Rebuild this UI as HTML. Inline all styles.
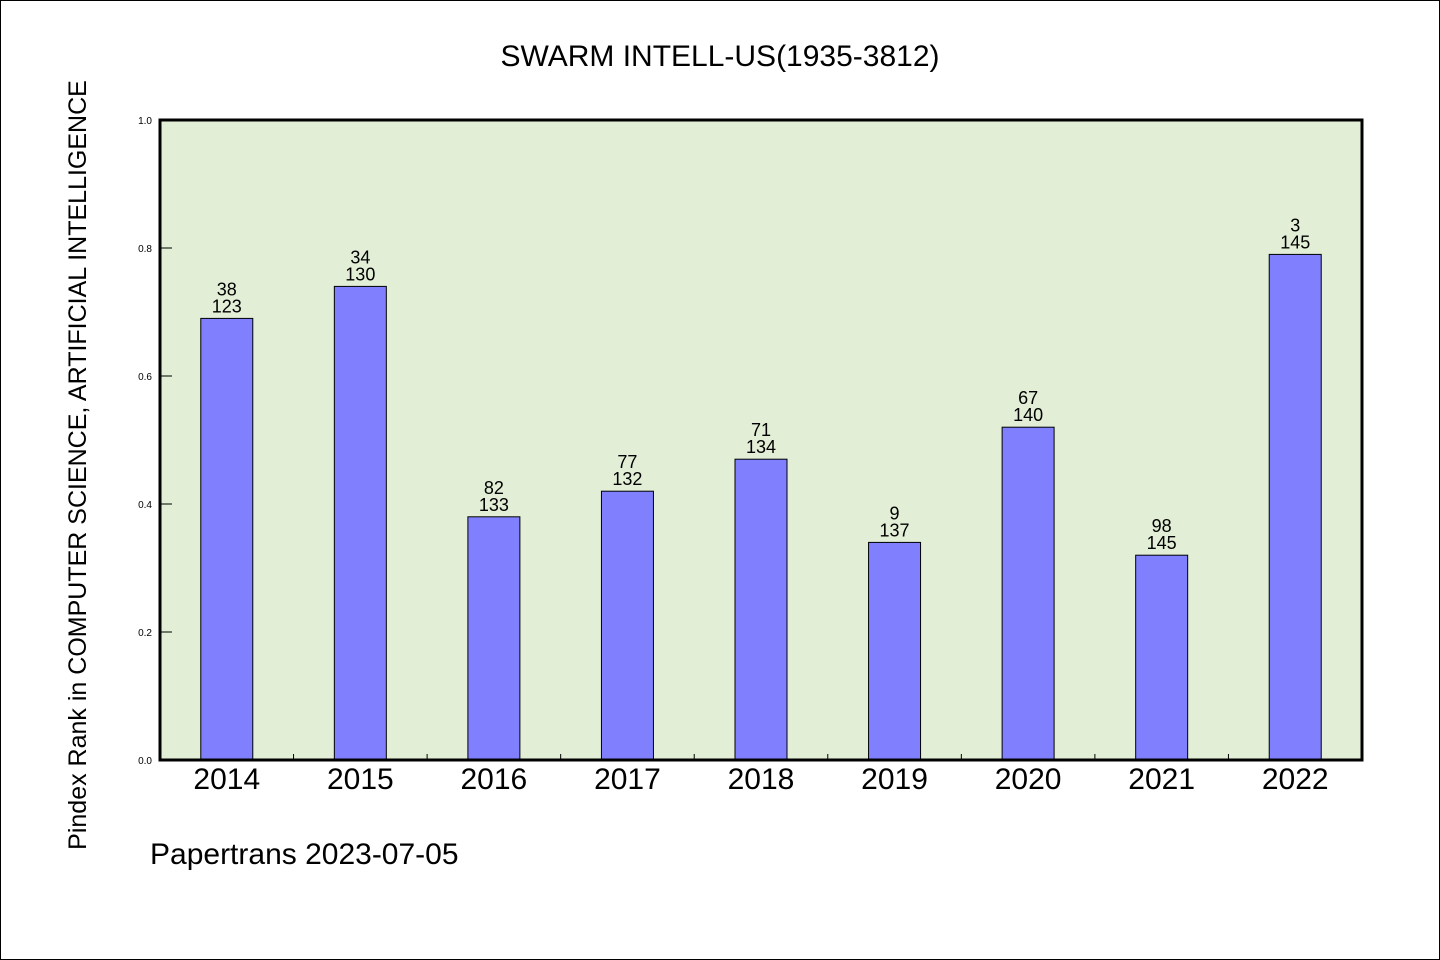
<!DOCTYPE html>
<html><head><meta charset="utf-8"><style>
html,body{margin:0;padding:0;background:#fff}
svg{display:block}
text{font-family:"WenQuanYi Zen Hei","Liberation Sans",sans-serif}
</style></head><body>
<svg id="chart" width="1440" height="960" viewBox="0 0 1440 960">
<rect x="0.5" y="0.5" width="1439" height="959" fill="#fff" stroke="#000"/>
<text x="720" y="66" text-anchor="middle" font-size="30">SWARM INTELL-US(1935-3812)</text>
<rect x="160" y="120" width="1202" height="640" fill="#e2efd6"/>
<g id="bars"></g>
<g id="yaxis"></g>
<g id="xaxis"></g>
<rect x="160" y="120" width="1202" height="640" fill="none" stroke="#000" stroke-width="3"/>
<text transform="translate(86,465) rotate(-90)" text-anchor="middle" font-size="25">Pindex Rank in COMPUTER SCIENCE, ARTIFICIAL INTELLIGENCE</text>
<text x="150" y="864" font-size="30">Papertrans 2023-07-05</text>
</svg>
<script>
const categories=["2014","2015","2016","2017","2018","2019","2020","2021","2022"];
const values=[0.69,0.74,0.38,0.42,0.47,0.34,0.52,0.32,0.79];
const topLabels=["38","34","82","77","71","9","67","98","3"];
const bottomLabels=["123","130","133","132","134","137","140","145","145"];
const yTicks=[0,0.2,0.4,0.6,0.8,1.0];
const NS="http://www.w3.org/2000/svg";
const X0=160,W=1202,Y0=760,H=640;
const band=W/categories.length;
const xc=i=>X0+band*(i+0.5);
const y=v=>Y0-v*H;
function mk(tag,attrs,parent){const e=document.createElementNS(NS,tag);for(const k in attrs)e.setAttribute(k,attrs[k]);parent.appendChild(e);return e;}
const bars=document.getElementById('bars'),ya=document.getElementById('yaxis'),xa=document.getElementById('xaxis');
categories.forEach((c,i)=>{
  const b=mk('rect',{x:xc(i)-26,y:y(values[i]),width:52,height:Y0-y(values[i]),fill:'#8080ff',stroke:'#000','stroke-width':1},bars);
  
  
  const t1=mk('text',{x:xc(i),y:y(values[i])-23,'text-anchor':'middle','font-size':18},bars);
  t1.textContent=topLabels[i];
  
  
  const t2=mk('text',{x:xc(i),y:y(values[i])-6,'text-anchor':'middle','font-size':18},bars);
  t2.textContent=bottomLabels[i];
  
  
  const xl=mk('text',{x:xc(i),y:789,'text-anchor':'middle','font-size':30},xa);
  xl.textContent=c;
  
  
  if(i>0){const tk=mk('line',{x1:X0+band*i,x2:X0+band*i,y1:Y0,y2:Y0-6,stroke:'#000','stroke-width':1},xa);
  
  }
});
yTicks.forEach(v=>{
  const tk=mk('line',{x1:X0,x2:X0+12,y1:y(v),y2:y(v),stroke:'#000','stroke-width':1},ya);
  
  
  const l=mk('text',{x:152,y:y(v)+4,'text-anchor':'end','font-size':10,'font-family':'Liberation Sans'},ya);
  l.textContent=v.toFixed(1);
  
  
});
</script>
</body></html>
